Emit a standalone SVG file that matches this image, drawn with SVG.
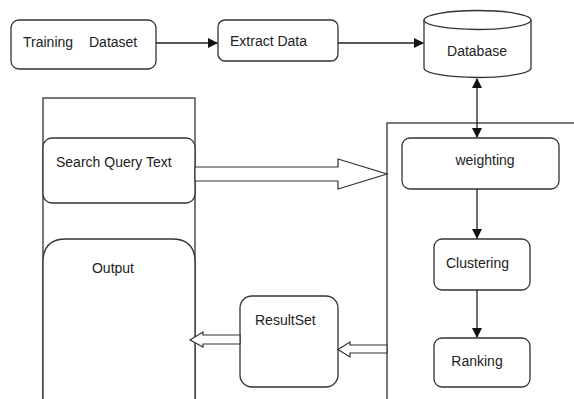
<svg xmlns="http://www.w3.org/2000/svg" width="574" height="399" viewBox="0 0 574 399">
<style>
.b{fill:#fff;stroke:#333;stroke-width:1.3}
.t{font-family:"Liberation Sans",Arial,sans-serif;font-size:14px;fill:#222}
.l{stroke:#222;stroke-width:1.3;fill:none}
.h{fill:#fff;stroke:#333;stroke-width:1.2}
</style>
<defs>
<marker id="a" markerWidth="10" markerHeight="10" refX="9" refY="5" orient="auto-start-reverse" markerUnits="userSpaceOnUse">
<path d="M0,0 L10,5 L0,10 Z" fill="#111"/>
</marker>
</defs>
<rect width="574" height="399" fill="#fff"/>
<g id="containers">
<rect class="b" x="43" y="98" width="152" height="310"/>
<rect class="b" x="387" y="123" width="200" height="290"/>
</g>
<g id="training">
<rect class="b" x="11" y="20" width="145" height="49" rx="8"/>
<text class="t" x="23" y="47">Training</text>
<text class="t" x="89" y="47">Dataset</text>
</g>
<g id="extract">
<rect class="b" x="218" y="20" width="120" height="41" rx="7"/>
<text class="t" x="230" y="46">Extract Data</text>
</g>
<g id="database">
<path class="b" d="M424,20 L424,68 A53.5,9.5 0 0 0 531,68 L531,20"/>
<ellipse class="b" cx="477.5" cy="20" rx="53.5" ry="9.5"/>
<text class="t" x="477" y="56" text-anchor="middle">Database</text>
</g>
<g id="search">
<rect class="b" x="43" y="138" width="152" height="65" rx="9"/>
<text class="t" x="56" y="167">Search Query Text</text>
</g>
<g id="output">
<path class="b" d="M43,399 L43,262 Q43,239 66,239 L172,239 Q195,239 195,262 L195,399"/>
<text class="t" x="113" y="273" text-anchor="middle">Output</text>
</g>
<g id="resultset">
<rect class="b" x="240" y="296" width="98" height="91" rx="12"/>
<text class="t" x="255" y="325">ResultSet</text>
</g>
<g id="weighting">
<rect class="b" x="402" y="138" width="157" height="51" rx="8"/>
<text class="t" x="485" y="165" text-anchor="middle">weighting</text>
</g>
<g id="clustering">
<rect class="b" x="434" y="239" width="96" height="51" rx="8"/>
<text class="t" x="446" y="268">Clustering</text>
</g>
<g id="ranking">
<rect class="b" x="434" y="338" width="96" height="49" rx="8"/>
<text class="t" x="477" y="366" text-anchor="middle">Ranking</text>
</g>
<g id="connectors">
<line class="l" x1="156" y1="43" x2="217" y2="43" marker-end="url(#a)"/>
<line class="l" x1="338" y1="43" x2="423" y2="43" marker-end="url(#a)"/>
<line class="l" x1="477" y1="79" x2="477" y2="137" marker-start="url(#a)" marker-end="url(#a)"/>
<line class="l" x1="477" y1="189" x2="477" y2="238" marker-end="url(#a)"/>
<line class="l" x1="477" y1="290" x2="477" y2="337" marker-end="url(#a)"/>
<path class="h" d="M195,167 L338,167 L338,159 L387,174 L338,189 L338,181 L195,181 Z"/>
<path class="h" d="M240,335 L203,335 L203,332 L190,340 L203,347 L203,344 L240,344 Z"/>
<path class="h" d="M387,345 L350,345 L350,342 L338,349.5 L350,357 L350,353 L387,353 Z"/>
</g>
</svg>
